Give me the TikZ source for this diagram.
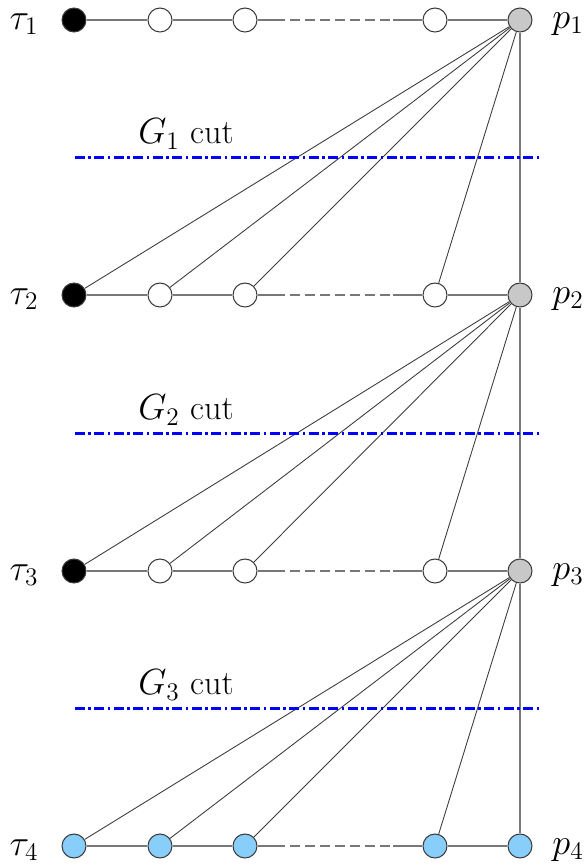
\documentclass[tikz,border=0pt]{standalone}
\usetikzlibrary{positioning}
\definecolor{nodegray}{RGB}{200,200,200}
\definecolor{nodeblue}{RGB}{135,206,250}
\definecolor{edgegray}{RGB}{120,120,120}
\definecolor{fangray}{RGB}{60,60,60}
\tikzset{
  vtx/.style={circle, draw=fangray, line width=0.6pt, minimum size=0.48cm, inner sep=0pt},
  srcvtx/.style={vtx, fill=black},
  midvtx/.style={vtx, fill=white},
  procvtx/.style={vtx, fill=nodegray},
  leafvtx/.style={vtx, fill=nodeblue},
  rowline/.style={draw=edgegray, line width=0.7pt},
  fanline/.style={draw=fangray, line width=0.5pt},
  cutline/.style={draw=blue, line width=1.7pt, dash pattern=on 0.2cm off 0.07cm on 0.05cm off 0.07cm},
  lbl/.style={font=\fontsize{19.5}{22}\selectfont},
}
\begin{document}
\begin{tikzpicture}[x=0.02cm, y=-0.02cm]
  \useasboundingbox (0,0) rectangle (588,867);

  % rows of tasks
  \node[srcvtx] (t1) at (74,20) {};
  \node[midvtx] (a1) at (160,20) {};
  \node[midvtx] (b1) at (245,20) {};
  \node[midvtx] (c1) at (435,20) {};
  \node[procvtx] (p1) at (520,20) {};

  \node[srcvtx] (t2) at (74,295) {};
  \node[midvtx] (a2) at (160,295) {};
  \node[midvtx] (b2) at (245,295) {};
  \node[midvtx] (c2) at (435,295) {};
  \node[procvtx] (p2) at (520,295) {};

  \node[srcvtx] (t3) at (74,571) {};
  \node[midvtx] (a3) at (160,571) {};
  \node[midvtx] (b3) at (245,571) {};
  \node[midvtx] (c3) at (435,571) {};
  \node[procvtx] (p3) at (520,571) {};

  \node[leafvtx] (t4) at (74,846) {};
  \node[leafvtx] (a4) at (160,846) {};
  \node[leafvtx] (b4) at (245,846) {};
  \node[leafvtx] (c4) at (435,846) {};
  \node[leafvtx] (p4) at (520,846) {};

  % labels
  \foreach \r/\y in {1/20, 2/295, 3/571, 4/846} {
    \node[lbl, anchor=center] (tl\r) at (24,\y+4) {$\tau_\r$};
    \node[lbl, anchor=center] (pl\r) at (568,\y+4) {$p_\r$};
    \coordinate (d\r) at (285,\y);
    \coordinate (e\r) at (393,\y);
  }

  % horizontal chains
  \foreach \r in {1,2,3,4} {
    \draw[rowline] (t\r) -- (a\r) -- (b\r) -- (d\r);
    \draw[rowline, dash pattern=on 0.2cm off 0.1cm, dash phase=0.2cm] (d\r) -- (e\r);
    \draw[rowline] (e\r) -- (c\r) -- (p\r);
  }

  % fans from each processor to the next row
  \foreach \r/\s in {1/2, 2/3, 3/4} {
    \draw[rowline] (p\r) -- (p\s);
    \draw[fanline] (p\r) -- (t\s);
    \draw[fanline] (p\r) -- (a\s);
    \draw[fanline] (p\r) -- (b\s);
    \draw[fanline] (p\r) -- (c\s);
  }

  % cuts
  \foreach \g/\y in {1/157, 2/433, 3/708} {
    \coordinate (cl\g) at (75,\y);
    \coordinate (cr\g) at (540,\y);
    \draw[cutline] (cl\g) -- (cr\g);
    \node[lbl] (g\g) at (186,\y-23) {$G_\g$ cut};
  }
\end{tikzpicture}
\end{document}
